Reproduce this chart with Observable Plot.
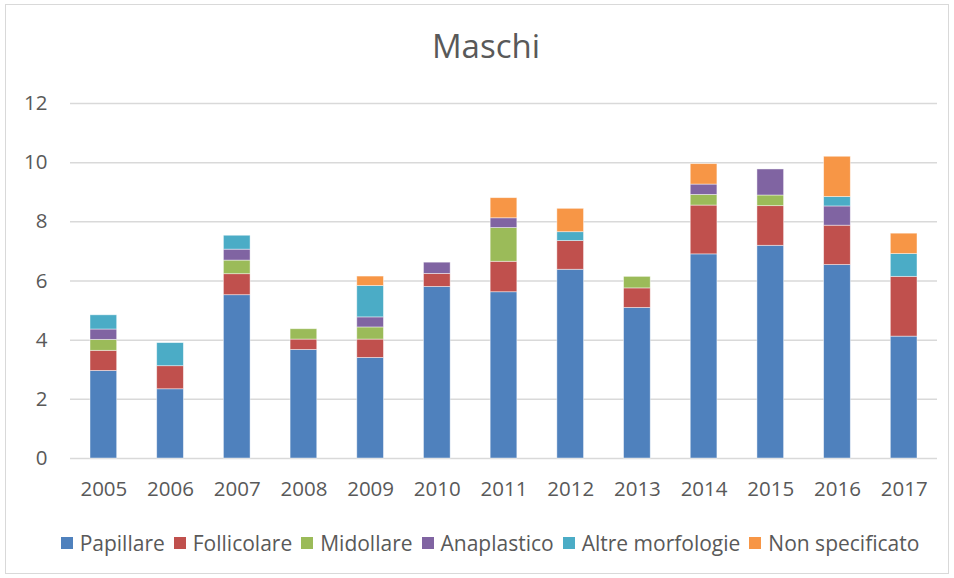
<!DOCTYPE html>
<html>
<head>
<meta charset="utf-8">
<script src="https://cdn.jsdelivr.net/npm/d3@7"></script>
<script src="https://cdn.jsdelivr.net/npm/@observablehq/plot@0.6"></script>
<style>
  html, body { margin: 0; padding: 0; background: #fff; }
  body { width: 954px; height: 578px; position: relative; overflow: hidden; font-family: "Open Sans", sans-serif; color: #595959; }
  #frame { position: absolute; left: 5px; top: 4px; width: 944px; height: 570px; border: 1px solid #d9d9d9; box-sizing: border-box; }
  #title { position: absolute; left: 0; top: 29px; width: 972px; text-align: center; font-size: 33px; line-height: 33px; color: #595959; }
  #chart { position: absolute; left: 0; top: 0; }
  #legend { position: absolute; left: 26px; top: 533px; width: 928px; display: flex; justify-content: center; align-items: center; font-size: 21px; line-height: 20px; color: #595959; }
  .item { display: flex; align-items: center; margin-right: 9px; }
  .item:last-child { margin-right: 0; }
  .sw { width: 12px; height: 12px; margin-right: 7px; }
</style>
</head>
<body>
<div id="frame"></div>
<div id="title">Maschi</div>
<div id="chart"></div>
<div id="legend"></div>
<script>
const years = ["2005","2006","2007","2008","2009","2010","2011","2012","2013","2014","2015","2016","2017"];
const seriesNames = ["Papillare","Follicolare","Midollare","Anaplastico","Altre morfologie","Non specificato"];
const seriesColors = ["#4F81BD","#C0504D","#9BBB59","#8064A2","#4BACC6","#F79646"];
const papillare     = [2.96, 2.34, 5.52, 3.67, 3.40, 5.80, 5.62, 6.38, 5.09, 6.90, 7.19, 6.54, 4.12];
const follicolare   = [0.68, 0.78, 0.71, 0.35, 0.62, 0.44, 1.03, 0.97, 0.66, 1.65, 1.34, 1.33, 2.02];
const midollare     = [0.37, 0.00, 0.46, 0.35, 0.41, 0.00, 1.14, 0.00, 0.39, 0.36, 0.36, 0.00, 0.00];
const anaplastico   = [0.35, 0.00, 0.37, 0.00, 0.34, 0.38, 0.33, 0.00, 0.00, 0.35, 0.88, 0.65, 0.00];
const altre         = [0.48, 0.78, 0.47, 0.00, 1.06, 0.00, 0.00, 0.30, 0.00, 0.00, 0.00, 0.32, 0.77];
const nonSpecificato= [0.00, 0.00, 0.00, 0.00, 0.32, 0.00, 0.68, 0.79, 0.00, 0.69, 0.00, 1.36, 0.69];
const yTicks = [0, 2, 4, 6, 8, 10, 12];

const seriesValues = [papillare, follicolare, midollare, anaplastico, altre, nonSpecificato];
const data = [];
years.forEach((yr, i) => {
  seriesNames.forEach((s, j) => {
    const v = seriesValues[j][i];
    if (v > 0) data.push({year: yr, series: s, value: v});
  });
});

const chart = Plot.plot({
  width: 954,
  height: 510,
  marginLeft: 70,
  marginRight: 17,
  marginTop: 103,
  marginBottom: 52,
  style: { fontFamily: "'Open Sans', sans-serif", fontSize: "20.5px", color: "#595959", background: "transparent" },
  x: { domain: years, paddingInner: 0.6, paddingOuter: 0.3, round: false, label: null },
  y: { domain: [0, 12], label: null },
  color: { domain: seriesNames, range: seriesColors },
  marks: [
    Plot.ruleY(yTicks, { stroke: "#d9d9d9", strokeWidth: 1.5 }),
    Plot.barY(data, Plot.stackY({ x: "year", y: "value", fill: "series", order: seriesNames, stroke: "#ffffff", strokeWidth: 0.8, strokeOpacity: 0.55 })),
    Plot.axisY({ ticks: yTicks, tickSize: 0, tickPadding: 23, label: null, fill: "#595959" }),
    Plot.axisX({ tickSize: 0, tickPadding: 23, label: null, fill: "#595959" })
  ]
});
document.getElementById("chart").appendChild(chart);

const legend = document.getElementById("legend");
seriesNames.forEach((s, j) => {
  const it = document.createElement("div");
  it.className = "item";
  const sw = document.createElement("div");
  sw.className = "sw";
  sw.style.background = seriesColors[j];
  const t = document.createElement("span");
  t.textContent = s;
  it.appendChild(sw);
  it.appendChild(t);
  legend.appendChild(it);
});
</script>
</body>
</html>
